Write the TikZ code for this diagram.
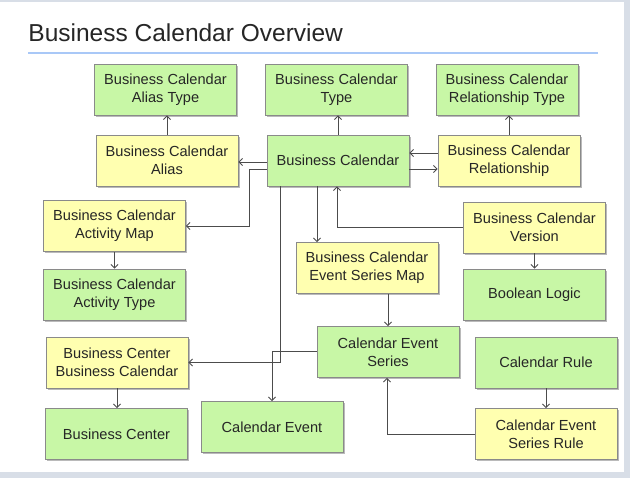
\documentclass[tikz,border=0pt]{standalone}
\usepackage{fontspec}
\setmainfont{Liberation Sans}
\usetikzlibrary{arrows.meta,shadows}
\definecolor{boxgreen}{HTML}{C8F7A6}
\definecolor{boxyellow}{HTML}{FFFFB0}
\definecolor{boxline}{HTML}{8A8A8A}
\definecolor{framegray}{HTML}{D8DEE7}
\definecolor{titleline}{HTML}{A9C8F7}
\tikzset{
  box/.style={draw=boxline,line width=0.8pt,minimum width=142pt,minimum height=51pt,
    inner sep=0pt,align=center,text=black!85,font=\fontsize{14.6}{18}\selectfont,
    drop shadow={shadow xshift=1.6pt,shadow yshift=-1.6pt,fill=black!45,opacity=0.6}},
  entity/.style={box,fill=boxgreen},
  link/.style={box,fill=boxyellow},
}

\begin{document}
\begin{tikzpicture}[x=1pt,y=-1pt,->,>={Straight Barb[length=3.5pt,width=7pt]},
    line width=0.9pt,draw=black!70]
   \fill[framegray] (0,0) rectangle (630,478);
   \fill[white] (0,2) rectangle (624,472);
   \useasboundingbox (0,0) rectangle (630,478);

   \node[anchor=west,inner sep=0pt,font=\fontsize{24.5}{28}\selectfont,text=black!85] (title) at (28,33) {Business Calendar Overview};
   \draw[-,titleline,line width=2pt] (28,53) -- (598,53);

   \node[entity] (aliastype) at (165.5,89.5) {Business Calendar\\Alias Type};
   \node[entity] (bctype)    at (336.5,89.5) {Business Calendar\\Type};
   \node[entity] (reltype)   at (507,89.5)   {Business Calendar\\Relationship Type};
   \node[link]   (alias)     at (167,160.5)  {Business Calendar\\Alias};
   \node[entity] (bc)        at (338,160.5)  {Business Calendar};
   \node[link]   (rel)       at (509,160.5)  {Business Calendar\\Relationship};
   \node[link]   (actmap)    at (114.5,226)  {Business Calendar\\Activity Map};
   \node[link]   (version)   at (534.5,227.5) {Business Calendar\\Version};
   \node[link]   (esm)       at (367,268)    {Business Calendar\\Event Series Map};
   \node[entity] (acttype)   at (114.5,294.5) {Business Calendar\\Activity Type};
   \node[entity] (boolean)   at (534.5,294.5) {Boolean Logic};
   \node[entity] (ces)       at (388,352)    {Calendar Event\\Series};
   \node[entity] (rule)      at (546,362.5)  {Calendar Rule};
   \node[link]   (bcbc)      at (117,362.5)  {Business Center\\Business Calendar};
   \node[entity] (bcenter)   at (116.5,434)  {Business Center};
   \node[entity] (calevent)  at (272,427)    {Calendar Event};
   \node[link]   (cesrule)   at (546,434)    {Calendar Event\\Series Rule};

   \draw (alias.north) -- (alias.north |- aliastype.south);
   \draw (bc.north) -- (bc.north |- bctype.south);
   \draw (rel.north) -- (rel.north |- reltype.south);
   \draw ([yshift=-1.5]bc.west) -- ([yshift=-1.5]bc.west -| alias.east);
   \draw ([yshift=-8.5]bc.west) -- ++(-17,0) |- (actmap.east);
   \draw ([yshift=7.5]rel.west) -- ([yshift=7.5]bc.east);
   \draw ([yshift=-8.5]bc.east) -- ([yshift=-8.5]rel.west);
   \draw ([xshift=-21]bc.south) -- ([xshift=-21]bc.south |- esm.north);
   \draw (version.west) -| ([xshift=-1]bc.south);
   \draw (actmap.south) -- (actmap.south |- acttype.north);
   \draw (version.south) -- (boolean.north);
   \draw (esm.south -| ces.north) -- (ces.north);
   \draw ([xshift=-58]bc.south) |- (bcbc.east);
   \draw ([yshift=1]ces.west) -| (calevent.north);
   \draw (rule.south) -- (cesrule.north);
   \draw (cesrule.west) -| ([xshift=-1]ces.south);
   \draw (bcbc.south) -- (bcbc.south |- bcenter.north);

\end{tikzpicture}
\end{document}
